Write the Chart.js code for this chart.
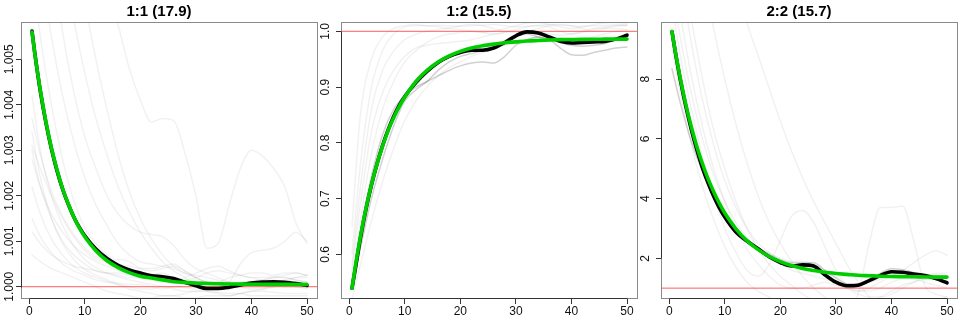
<!DOCTYPE html>
<html>
<head>
<meta charset="utf-8">
<script src="https://cdn.jsdelivr.net/npm/chart.js@4/dist/chart.umd.min.js"></script>
<style>
  html, body { margin: 0; padding: 0; background: #ffffff; }
  #row { display: flex; width: 960px; height: 320px; }
  .cell { width: 320px; height: 320px; position: relative; }
  canvas { display: block; }
</style>
</head>
<body>
<div id="row">
  <div class="cell"><canvas id="c1" width="320" height="320"></canvas></div>
  <div class="cell"><canvas id="c2" width="320" height="320"></canvas></div>
  <div class="cell"><canvas id="c3" width="320" height="320"></canvas></div>
</div>
<script>
// ---------------- data ----------------
const xTicks = [0, 10, 20, 30, 40, 50];
const xTickLabels = ['0', '10', '20', '30', '40', '50'];

// x positions of the summary curves (black = observed mean, green = fitted)
const fitX = [0.5, 1, 2, 3, 4, 5, 6, 7, 8, 9, 10, 12, 14, 16, 18, 20, 22, 24, 26, 28, 30, 32, 34, 36, 38, 40, 42, 44, 46, 48, 50];
// x positions of the individual (gray) curves
const grayX = [0.5, 2, 4, 6, 8, 10, 12, 14, 16, 18, 20, 22, 24, 26, 28, 30, 32, 34, 36, 38, 40, 42, 44, 46, 48, 50];

// ---- panel 1 : 1:1 ----
const p1Title = '1:1 (17.9)';
const p1Ref = 1.0;
const p1YTicks = [1.000, 1.001, 1.002, 1.003, 1.004, 1.005];
const p1YTickLabels = ['1.000', '1.001', '1.002', '1.003', '1.004', '1.005'];
const p1Black = [1.00562, 1.00514, 1.00430, 1.00361, 1.00303, 1.00255, 1.00215, 1.00182, 1.00154, 1.00131, 1.00112, 1.00083, 1.00062, 1.00047, 1.00037, 1.00030, 1.00024, 1.00022, 1.00018, 1.00010, 1.00002, 0.99996, 0.99996, 0.99999, 1.00004, 1.00008, 1.00010, 1.00011, 1.00010, 1.00007, 1.00003];
const p1Green = [1.00560, 1.00513, 1.00432, 1.00363, 1.00305, 1.00257, 1.00216, 1.00183, 1.00154, 1.00130, 1.00110, 1.00079, 1.00057, 1.00042, 1.00031, 1.00023, 1.00019, 1.00015, 1.00011, 1.000095, 1.00008, 1.00007, 1.000065, 1.00006, 1.000058, 1.000055, 1.000053, 1.000052, 1.000051, 1.00005, 1.00005];
const p1GrayFaint = [
  [1.016, 1.0145, 1.0126, 1.011, 1.0096, 1.0083, 1.0073, 1.0065, 1.00575, 1.0048, 1.00411, 1.00362, 1.0037, 1.00365, 1.00295, 1.002, 1.00085, 1.00095, 1.0018, 1.0026, 1.003, 1.00287, 1.0026, 1.0022, 1.0014, 1.00095],
  [1.003, 1.0022, 1.0015, 1.001, 1.0007, 1.0005, 1.00035, 1.0003, 1.00025, 1.0002, 1.0002, 1.00025, 1.0003, 1.0002, 1.0001, 1.00005, 1.0, 1.0, 1.0001, 1.0005, 1.00075, 1.0008, 1.00085, 1.001, 1.0012, 1.001],
  [1.007, 1.0055, 1.004, 1.0028, 1.0019, 1.0013, 1.00095, 1.0007, 1.0005, 1.0004, 1.0003, 1.00028, 1.00025, 1.0002, 1.0001, 1.00005, 1.00005, 1.00008, 1.0001, 1.0001, 1.0001, 1.00012, 1.00015, 1.00012, 1.0001, 1.00005],
  [1.009, 1.0072, 1.0055, 1.0042, 1.0032, 1.0024, 1.0018, 1.00135, 1.00095, 1.0007, 1.00055, 1.0005, 1.00045, 1.0004, 1.0003, 1.00025, 1.0002, 1.00015, 1.0001, 1.00008, 1.00005, 1.00008, 1.0001, 1.00015, 1.0002, 1.0002],
  [1.012, 1.0095, 1.0073, 1.0056, 1.0043, 1.0033, 1.0026, 1.002, 1.0016, 1.00135, 1.0012, 1.00115, 1.0011, 1.0009, 1.0006, 1.0004, 1.0003, 1.0002, 1.0001, 1.0, 0.99995, 0.99995, 1.0, 1.0001, 1.0002, 1.00025],
  [1.015, 1.012, 1.0095, 1.0075, 1.0059, 1.0047, 1.0037, 1.0029, 1.0022, 1.00165, 1.0012, 1.00085, 1.00055, 1.00035, 1.0002, 1.00005, 0.9999, 0.99985, 0.9998, 0.99985, 0.9999, 0.99995, 1.00005, 1.0001, 1.0001, 1.0001],
  [1.02, 1.016, 1.0125, 1.01, 1.008, 1.0063, 1.005, 1.0039, 1.0029, 1.0021, 1.0015, 1.00105, 1.0007, 1.00045, 1.0003, 1.0002, 1.0001, 1.0001, 1.0002, 1.00025, 1.0003, 1.0003, 1.00025, 1.0003, 1.0003, 1.00025],
  [1.0042, 1.003, 1.002, 1.00135, 1.0009, 1.0006, 1.00042, 1.0003, 1.00022, 1.00015, 1.0001, 1.00005, 1.0, 0.99995, 0.9999, 0.9999, 0.99992, 0.99995, 1.0, 1.00005, 1.0001, 1.00015, 1.0002, 1.0002, 1.00015, 1.0001],
  [1.0037, 1.0029, 1.0021, 1.00155, 1.00115, 1.00085, 1.00065, 1.00055, 1.0005, 1.00045, 1.0004, 1.0004, 1.00045, 1.0005, 1.00035, 1.0002, 1.0001, 1.00005, 1.0, 1.0, 1.00005, 1.0001, 1.0001, 1.00005, 1.0, 0.99995],
  [1.0034, 1.0024, 1.0015, 1.00095, 1.0006, 1.00038, 1.00025, 1.00015, 1.00005, 0.99995, 0.9999, 0.99985, 0.9998, 0.9998, 0.99985, 0.9999, 0.9999, 0.99988, 0.99985, 0.99985, 0.9999, 0.9999, 0.99988, 0.99985, 0.99985, 0.99985],
  [1.0028, 1.0022, 1.0016, 1.0012, 1.0009, 1.0007, 1.00055, 1.00045, 1.00035, 1.0003, 1.00025, 1.0002, 1.0002, 1.00015, 1.0002, 1.0003, 1.0004, 1.00045, 1.00035, 1.00025, 1.0002, 1.00015, 1.0002, 1.00025, 1.0003, 1.00025],
  [1.0022, 1.0016, 1.00105, 1.0007, 1.00045, 1.0003, 1.0002, 1.00012, 1.00008, 1.00005, 1.00005, 1.0, 0.99995, 1.0, 1.00005, 1.0001, 1.00012, 1.0001, 1.0001, 1.00008, 1.00005, 1.00008, 1.0001, 1.00012, 1.0001, 1.00008],
  [1.0015, 1.0011, 1.00075, 1.0005, 1.00035, 1.00025, 1.00015, 1.0001, 1.00005, 1.0, 0.99995, 0.99995, 1.0, 1.0, 0.99998, 0.99995, 0.99995, 0.99998, 1.0, 1.00002, 1.00002, 1.0, 1.0, 1.00002, 1.00003, 1.00003],
  [1.0012, 1.00095, 1.0007, 1.00055, 1.00045, 1.0004, 1.00035, 1.0003, 1.0003, 1.00025, 1.0002, 1.00015, 1.0001, 1.0001, 1.00015, 1.0002, 1.0003, 1.00035, 1.0003, 1.00025, 1.0002, 1.0002, 1.00022, 1.0002, 1.00015, 1.0001],
  [1.0007, 1.00055, 1.0004, 1.0003, 1.0002, 1.0001, 1.0, 0.9999, 0.99985, 0.9998, 0.99975, 0.99975, 0.9998, 0.9998, 0.99975, 0.99975, 0.9998, 0.9998, 0.9998, 0.99985, 0.9998, 0.9998, 0.9998, 0.9998, 0.9998, 0.9998],
  [1.0031, 1.0026, 1.002, 1.0015, 1.0011, 1.0008, 1.0006, 1.00055, 1.0006, 1.00055, 1.0004, 1.00035, 1.0004, 1.00045, 1.00035, 1.0002, 1.0001, 1.00005, 1.00005, 1.0001, 1.00012, 1.0001, 1.00005, 1.0, 1.0, 0.99998]
];
const p1GrayDark = [];

// ---- panel 2 : 1:2 ----
const p2Title = '1:2 (15.5)';
const p2Ref = 1.0;
const p2YTicks = [0.6, 0.7, 0.8, 0.9, 1.0];
const p2YTickLabels = ['0.6', '0.7', '0.8', '0.9', '1.0'];
const p2Black = [0.539, 0.568, 0.628, 0.680, 0.724, 0.762, 0.795, 0.823, 0.847, 0.867, 0.883, 0.908, 0.928, 0.944, 0.955, 0.962, 0.966, 0.966, 0.970, 0.980, 0.992, 0.999, 0.997, 0.990, 0.982, 0.979, 0.980, 0.981, 0.982, 0.986, 0.993];
const p2Green = [0.539, 0.572, 0.631, 0.682, 0.725, 0.762, 0.794, 0.822, 0.845, 0.865, 0.882, 0.910, 0.930, 0.945, 0.956, 0.964, 0.970, 0.974, 0.977, 0.9795, 0.981, 0.9825, 0.9835, 0.9844, 0.985, 0.9853, 0.9856, 0.9858, 0.9859, 0.986, 0.986];
const p2GrayFaint = [
  [0.60, 0.76, 0.90, 0.965, 0.995, 1.008, 1.01, 1.01, 1.011, 1.01, 1.009, 1.01, 1.011, 1.012, 1.01, 1.008, 1.009, 1.011, 1.012, 1.011, 1.01, 1.009, 1.01, 1.011, 1.012, 1.011],
  [0.58, 0.72, 0.86, 0.93, 0.965, 0.985, 0.995, 1.0, 1.003, 1.006, 1.01, 1.012, 1.01, 1.005, 1.0, 0.998, 1.0, 1.005, 1.01, 1.012, 1.01, 1.005, 1.0, 1.005, 1.01, 1.012],
  [0.55, 0.66, 0.78, 0.86, 0.91, 0.945, 0.965, 0.98, 0.99, 0.995, 0.998, 1.0, 0.998, 0.995, 0.998, 1.003, 1.008, 1.01, 1.008, 1.0, 0.995, 0.998, 1.003, 1.006, 1.005, 1.003],
  [0.52, 0.58, 0.66, 0.73, 0.79, 0.84, 0.875, 0.90, 0.92, 0.935, 0.945, 0.955, 0.962, 0.97, 0.975, 0.98, 0.985, 0.99, 0.99, 0.988, 0.985, 0.985, 0.99, 0.995, 1.0, 1.002],
  [0.65, 0.85, 0.95, 0.99, 1.005, 1.01, 1.012, 1.01, 1.008, 1.005, 1.003, 1.0, 0.998, 1.0, 1.005, 1.01, 1.015, 1.016, 1.012, 1.008, 1.005, 1.008, 1.012, 1.015, 1.016, 1.014],
  [0.57, 0.69, 0.82, 0.89, 0.93, 0.955, 0.97, 0.975, 0.978, 0.98, 0.982, 0.985, 0.99, 0.995, 0.998, 1.0, 1.0, 0.998, 0.995, 0.993, 0.995, 1.0, 1.005, 1.008, 1.01, 1.01]
];
const p2GrayDark = [
  [0.55, 0.64, 0.74, 0.815, 0.86, 0.885, 0.90, 0.91, 0.92, 0.93, 0.938, 0.943, 0.945, 0.943, 0.955, 0.975, 0.985, 0.99, 0.985, 0.97, 0.958, 0.957, 0.962, 0.966, 0.97, 0.972],
  [0.54, 0.61, 0.70, 0.77, 0.83, 0.875, 0.895, 0.91, 0.93, 0.945, 0.955, 0.96, 0.965, 0.97, 0.98, 0.99, 0.995, 0.99, 0.985, 0.98, 0.975, 0.973, 0.975, 0.978, 0.985, 0.99]
];

// ---- panel 3 : 2:2 ----
const p3Title = '2:2 (15.7)';
const p3Ref = 1.0;
const p3YTicks = [2, 4, 6, 8];
const p3YTickLabels = ['2', '4', '6', '8'];
const p3Black = [9.60, 9.02, 7.98, 7.08, 6.30, 5.62, 5.02, 4.52, 4.08, 3.70, 3.38, 2.88, 2.58, 2.32, 2.05, 1.86, 1.74, 1.78, 1.74, 1.45, 1.20, 1.08, 1.10, 1.25, 1.42, 1.55, 1.53, 1.47, 1.42, 1.32, 1.18];
const p3Green = [9.60, 9.04, 8.03, 7.15, 6.39, 5.73, 5.16, 4.66, 4.23, 3.85, 3.52, 2.99, 2.59, 2.29, 2.06, 1.89, 1.76, 1.66, 1.59, 1.53, 1.49, 1.46, 1.43, 1.415, 1.40, 1.39, 1.385, 1.38, 1.375, 1.37, 1.37];
const p3GrayFaint = [
  [11, 9.4, 7.5, 6.0, 4.8, 3.9, 3.2, 2.7, 2.3, 2.0, 1.8, 1.6, 1.5, 1.4, 1.3, 1.2, 1.1, 1.1, 1.2, 1.3, 1.4, 1.4, 1.35, 1.3, 1.3, 1.25],
  [13, 11.5, 9.2, 7.3, 5.8, 4.6, 3.7, 3.0, 2.5, 2.2, 2.0, 1.9, 1.9, 1.8, 1.6, 1.3, 1.0, 0.8, 0.7, 0.7, 0.8, 1.0, 1.2, 1.4, 1.5, 1.5],
  [18, 16, 13.5, 11.5, 9.7, 8.0, 6.5, 5.2, 4.1, 3.2, 2.5, 1.9, 1.4, 1.0, 0.7, 0.5, 0.3, 0.2, 0.1, 0.1, 0.2, 0.3, 0.4, 0.5, 0.6, 0.7],
  [22, 20.5, 18.5, 16.5, 14.8, 13.1, 11.5, 9.9, 8.8, 7.7, 6.6, 5.6, 4.7, 3.9, 3.2, 2.5, 1.8, 1.2, 0.7, 0.4, 0.3, 0.3, 0.4, 0.5, 0.5, 0.5],
  [10.5, 8.8, 7.0, 5.4, 4.1, 3.0, 2.2, 1.6, 1.4, 1.8, 2.6, 3.4, 3.6, 3.2, 2.4, 1.6, 1.1, 0.9, 0.9, 1.0, 1.2, 1.3, 1.3, 1.2, 1.1, 1.0],
  [9.0, 7.5, 5.8, 4.4, 3.3, 2.4, 1.7, 1.2, 0.9, 0.7, 0.5, 0.4, 0.3, 0.3, 0.3, 0.3, 0.4, 0.8, 2.5, 3.7, 3.7, 3.75, 2.6, 1.1, 0.8, 0.7],
  [12, 10.2, 8.1, 6.4, 5.0, 3.9, 3.0, 2.3, 1.8, 1.4, 1.1, 1.0, 1.0, 1.1, 1.2, 1.1, 1.0, 0.9, 1.0, 1.2, 1.4, 1.6, 1.85, 2.1, 2.25, 2.1],
  [14, 12.3, 10, 8.0, 6.3, 5.0, 3.9, 3.0, 2.3, 1.8, 1.4, 1.1, 0.8, 0.6, 0.5, 0.45, 0.4, 0.4, 0.5, 0.7, 0.9, 1.1, 1.2, 1.3, 1.3, 1.2]
];
const p3GrayDark = [
  [8.35, 7.2, 5.9, 4.9, 4.1, 3.4, 2.9, 2.6, 2.35, 2.15, 1.95, 1.85, 1.85, 1.85, 1.6, 1.35, 1.15, 1.15, 1.3, 1.5, 1.65, 1.62, 1.52, 1.45, 1.42, 1.4]
];

// ---------------- styling / building ----------------
const FONT = "'Liberation Sans', Arial, Helvetica, sans-serif";
const X_MIN = -1.48, X_MAX = 51.98;

function pts(xs, ys) { return ys.map((v, i) => ({ x: xs[i], y: v })); }

const framePlugin = {
  id: 'frame',
  afterDatasetsDraw(chart) {
    const { ctx, chartArea: a, scales: { x, y } } = chart;
    const L = Math.round(a.left) + 0.5, R = Math.round(a.right) - 0.5;
    const T = Math.round(a.top) + 0.5, B = Math.round(a.bottom) - 0.5;
    ctx.save();
    ctx.lineWidth = 1;
    ctx.strokeStyle = '#8a8a8a';
    ctx.strokeRect(L, T, R - L, B - T);
    ctx.strokeStyle = '#333333';
    ctx.beginPath();
    const yt = y.ticks, xt = x.ticks;
    ctx.moveTo(L, Math.round(y.getPixelForValue(yt[0].value)) + 0.5);
    ctx.lineTo(L, Math.round(y.getPixelForValue(yt[yt.length - 1].value)) + 0.5);
    ctx.moveTo(Math.round(x.getPixelForValue(xt[0].value)) + 0.5, B);
    ctx.lineTo(Math.round(x.getPixelForValue(xt[xt.length - 1].value)) + 0.5, B);
    ctx.stroke();
    ctx.restore();
  }
};

function build(id, p) {
  const datasets = [];
  p.faint.forEach(arr => datasets.push({
    data: pts(grayX, arr), borderColor: 'rgba(0,0,0,0.055)', borderWidth: 1.5, order: 4
  }));
  p.dark.forEach(arr => datasets.push({
    data: pts(grayX, arr), borderColor: 'rgba(0,0,0,0.18)', borderWidth: 1.5, order: 3
  }));
  datasets.push({
    data: [{ x: X_MIN, y: p.ref }, { x: X_MAX, y: p.ref }],
    borderColor: 'rgba(255,40,40,0.75)', borderWidth: 1, order: 2, cubicInterpolationMode: 'default', tension: 0
  });
  datasets.push({ data: pts(fitX, p.black), borderColor: '#000000', borderWidth: 3.6, order: 1 });
  datasets.push({ data: pts(fitX, p.green), borderColor: '#00cd00', borderWidth: 3.6, order: 0 });

  new Chart(document.getElementById(id), {
    type: 'line',
    data: { datasets },
    plugins: [framePlugin],
    options: {
      responsive: false,
      animation: false,
      devicePixelRatio: 1,
      layout: { padding: { left: 0, right: 2, top: 0, bottom: 0 } },
      elements: {
        point: { radius: 0, hoverRadius: 0 },
        line: { cubicInterpolationMode: 'monotone', borderCapStyle: 'round', borderJoinStyle: 'round', fill: false }
      },
      datasets: { line: { clip: 0 } },
      plugins: {
        legend: { display: false },
        tooltip: { enabled: false },
        title: {
          display: true, text: p.title, color: '#000000',
          font: { family: FONT, size: 15, weight: 'bold' },
          padding: { top: 3, bottom: 1 }
        }
      },
      scales: {
        x: {
          type: 'linear', min: X_MIN, max: X_MAX,
          afterBuildTicks: s => { s.ticks = xTicks.map(v => ({ value: v })); },
          afterFit: s => { s.height = 21; },
          border: { display: false },
          grid: { drawOnChartArea: false, drawTicks: true, tickLength: 5, color: '#333333' },
          ticks: {
            autoSkip: false, maxRotation: 0, padding: 0, color: '#111111',
            font: { family: FONT, size: 12 },
            callback: (v, i) => xTickLabels[i]
          }
        },
        y: {
          type: 'linear', min: p.ymin, max: p.ymax,
          afterBuildTicks: s => { s.ticks = p.yTicks.map(v => ({ value: v })); },
          afterFit: s => { s.width = 21; },
          border: { display: false },
          grid: { drawOnChartArea: false, drawTicks: true, tickLength: 5, color: '#333333' },
          ticks: {
            autoSkip: false, minRotation: 90, maxRotation: 90, crossAlign: 'center',
            padding: p.yPad, color: '#111111',
            font: { family: FONT, size: 12 },
            callback: (v, i) => p.yLabels[i]
          }
        }
      }
    }
  });
}

build('c1', { title: p1Title, ref: p1Ref, black: p1Black, green: p1Green, faint: p1GrayFaint, dark: p1GrayDark,
  yTicks: p1YTicks, yLabels: p1YTickLabels, ymin: 0.99973, ymax: 1.00582, yPad: -8.5 });
build('c2', { title: p2Title, ref: p2Ref, black: p2Black, green: p2Green, faint: p2GrayFaint, dark: p2GrayDark,
  yTicks: p2YTicks, yLabels: p2YTickLabels, ymin: 0.5198, ymax: 1.0167, yPad: 1.7 });
build('c3', { title: p3Title, ref: p3Ref, black: p3Black, green: p3Green, faint: p3GrayFaint, dark: p3GrayDark,
  yTicks: p3YTicks, yLabels: p3YTickLabels, ymin: 0.636, ymax: 9.92, yPad: 6.7 });
</script>
</body>
</html>
